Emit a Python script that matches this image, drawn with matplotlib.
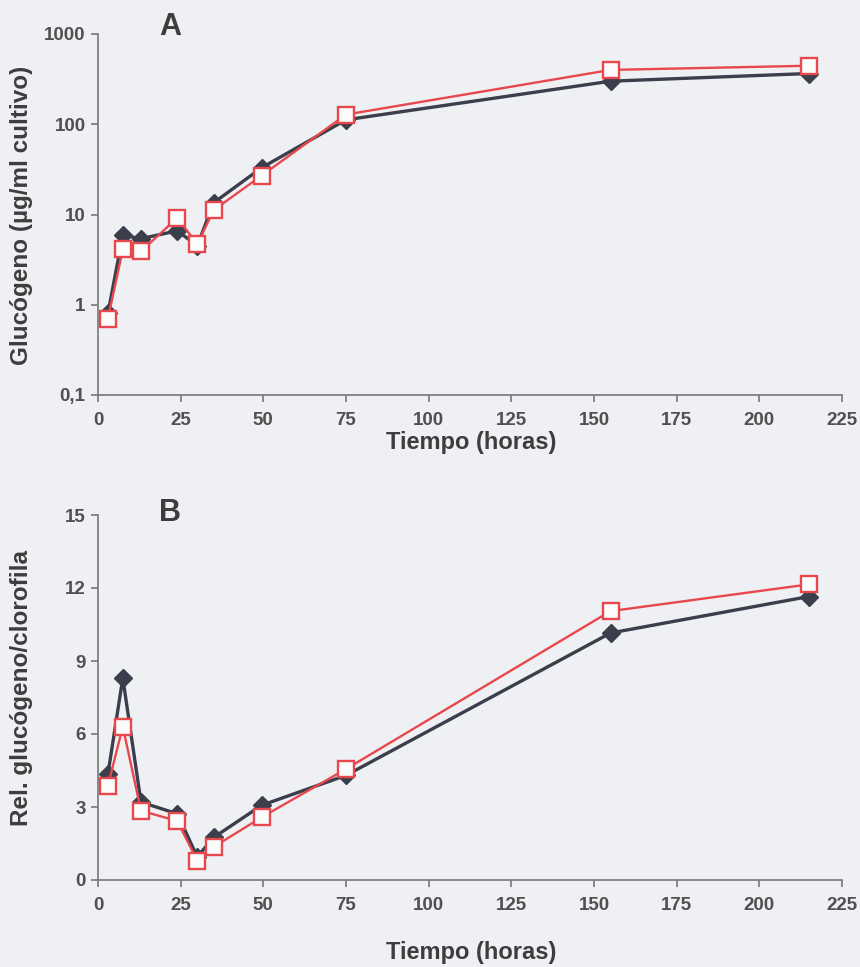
import numpy as np
import matplotlib
matplotlib.use("Agg")
import matplotlib.pyplot as plt
from matplotlib.ticker import FixedLocator, FixedFormatter, NullLocator

# Tiempo (horas)
tiempo = [3, 7.5, 13, 24, 30, 35, 49.5, 75, 155, 215]

# A: glucogeno (ug/ml cultivo)
gluc_negro = [0.8, 5.9, 5.4, 6.6, 4.5, 13.5, 33, 112, 300, 365]
gluc_rojo = [0.7, 4.1, 3.9, 9.2, 4.7, 11.2, 27, 128, 400, 445]

# B: relacion glucogeno/clorofila
rel_negro = [4.35, 8.3, 3.2, 2.72, 0.95, 1.75, 3.07, 4.3, 10.15, 11.65]
rel_rojo = [3.88, 6.3, 2.85, 2.42, 0.8, 1.36, 2.58, 4.56, 11.05, 12.15]

x_ticks = [0, 25, 50, 75, 100, 125, 150, 175, 200, 225]
yA_ticks = [0.1, 1, 10, 100, 1000]
yA_labels = ["0,1", "1", "10", "100", "1000"]
yB_ticks = [0, 3, 6, 9, 12, 15]

bg = "#eef0f3"
negro = "#3b3e4b"
rojo = "#e8484d"
gris = "#777777"
texto = "#3d3d3d"

plt.rcParams['font.family'] = ['Liberation Sans', 'DejaVu Sans']
plt.rcParams['font.weight'] = 'bold'

fig = plt.figure(figsize=(8.6, 9.67), dpi=100, facecolor=bg)
W, H = 860, 967

ax1 = fig.add_axes([98 / W, 1 - 395 / H, 744 / W, 361 / H])
ax2 = fig.add_axes([98 / W, 1 - 880 / H, 744 / W, 365 / H])


def estilo(ax):
    ax.set_facecolor(bg)
    for s in ['top', 'right']:
        ax.spines[s].set_visible(False)
    for s in ['left', 'bottom']:
        ax.spines[s].set_color(gris)
        ax.spines[s].set_linewidth(1.2)
    ax.tick_params(direction='out', length=5, width=1.2, color=gris,
                   labelsize=13.5, labelcolor='#505050')
    ax.tick_params(axis='x', pad=7)
    ax.tick_params(axis='y', pad=4)
    ax.set_xlim(0, 225)
    ax.xaxis.set_major_locator(FixedLocator(x_ticks))
    for lab in ax.get_xticklabels() + ax.get_yticklabels():
        lab.set_fontweight('bold')


# Panel A
ax1.set_yscale('log')
ax1.plot(tiempo, gluc_negro, color=negro, lw=2.4, marker='D', ms=9,
         mfc=negro, mec=negro, clip_on=False, zorder=3)
ax1.plot(tiempo, gluc_rojo, color=rojo, lw=1.7, marker='s', ms=11,
         mfc='#fbfbfb', mec=rojo, mew=1.7, clip_on=False, zorder=4)
ax1.set_ylim(0.1, 1000)
ax1.yaxis.set_major_locator(FixedLocator(yA_ticks))
ax1.yaxis.set_major_formatter(FixedFormatter(yA_labels))
ax1.yaxis.set_minor_locator(NullLocator())
estilo(ax1)

# Panel B
ax2.plot(tiempo, rel_negro, color=negro, lw=2.4, marker='D', ms=9,
         mfc=negro, mec=negro, clip_on=False, zorder=3)
ax2.plot(tiempo, rel_rojo, color=rojo, lw=1.7, marker='s', ms=11,
         mfc='#fbfbfb', mec=rojo, mew=1.7, clip_on=False, zorder=4)
ax2.set_ylim(0, 15)
ax2.yaxis.set_major_locator(FixedLocator(yB_ticks))
estilo(ax2)

# textos
fig.text(170 / W, 1 - 27 / H, "A", fontsize=22, fontweight='bold',
         color=texto, ha='center', va='center')
fig.text(170 / W, 1 - 513 / H, "B", fontsize=22, fontweight='bold',
         color=texto, ha='center', va='center')
fig.text(22 / W, 1 - 215 / H, "Glucógeno (µg/ml cultivo)", fontsize=17.5,
         fontweight='bold', color=texto, rotation=90, ha='center', va='center')
fig.text(22 / W, 1 - 688 / H, "Rel. glucógeno/clorofila", fontsize=17.5,
         fontweight='bold', color=texto, rotation=90, ha='center', va='center')
fig.text(471 / W, 1 - 442 / H, "Tiempo (horas)", fontsize=17,
         fontweight='bold', color=texto, ha='center', va='center')
fig.text(471 / W, 1 - 953 / H, "Tiempo (horas)", fontsize=17,
         fontweight='bold', color=texto, ha='center', va='center')

fig.savefig("out.png", dpi=100, facecolor=bg)
